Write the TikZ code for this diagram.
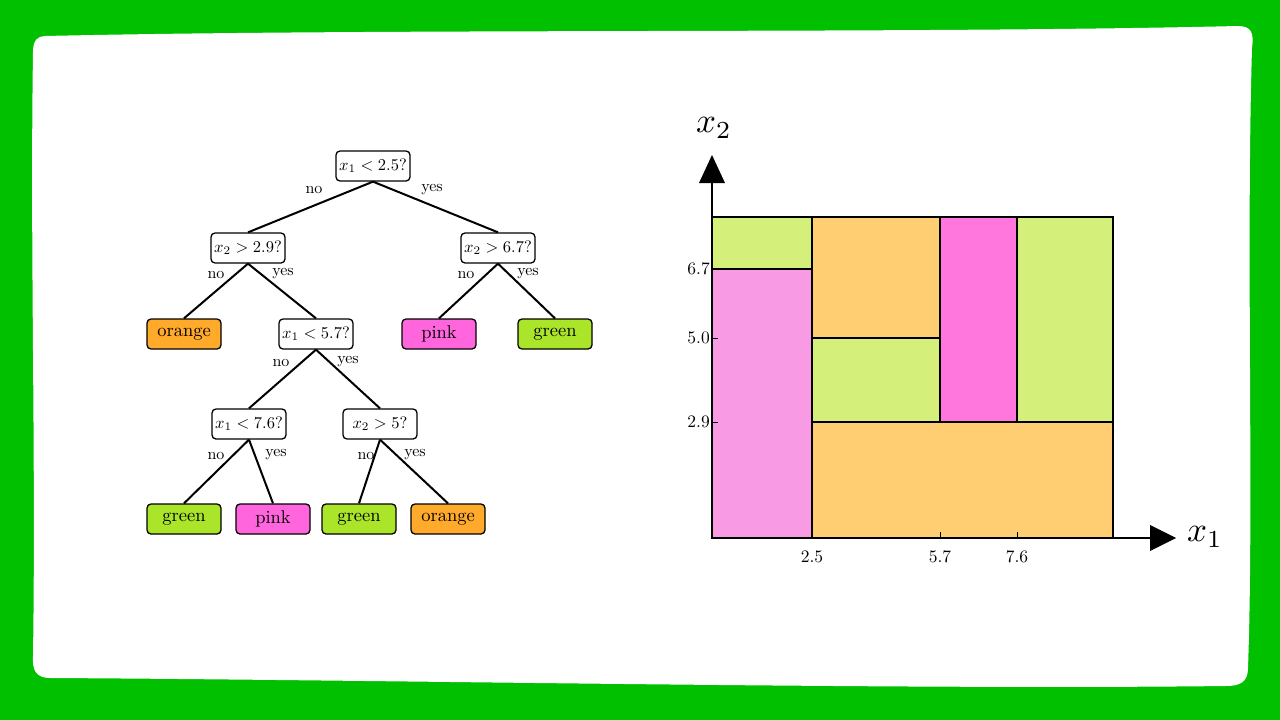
\documentclass[tikz,border=0pt]{standalone}
\usepackage{graphicx}
\newcommand\myS[2]{\scalebox{#1}{#2}}
\begin{document}
\begin{tikzpicture}[x=1pt,y=-1pt,
  q/.style={draw,line width=1.3pt,rounded corners=4pt,fill=white,minimum width=74pt,minimum height=30pt,inner sep=1pt},
  leaf/.style={q},
  e/.style={line width=2pt},
  reg/.style={draw=black,line width=2pt}]
\definecolor{bg}{HTML}{00C000}
\definecolor{lor}{HTML}{FFAA2A}
\definecolor{lpk}{HTML}{FF66DD}
\definecolor{lgr}{HTML}{AAE52A}
\definecolor{rgr}{HTML}{D4F07A}
\definecolor{ror}{HTML}{FFCE73}
\definecolor{rpl}{HTML}{F99AE4}
\definecolor{rpk}{HTML}{FF77DD}
\useasboundingbox (0,0) rectangle (1280,720);
\fill[bg] (0,0) rectangle (1280,720);
\fill[white] (45,36) .. controls (400,28) and (900,34) .. (1238,26)
  .. controls (1252,26) and (1254,34) .. (1252,48)
  .. controls (1246,250) and (1254,500) .. (1248,668)
  .. controls (1248,682) and (1240,686) .. (1226,686)
  .. controls (900,690) and (400,680) .. (50,678)
  .. controls (36,678) and (32,670) .. (33,656)
  .. controls (36,450) and (30,250) .. (33,52)
  .. controls (33,40) and (38,36) .. (45,36) -- cycle;
% tree
\node[q] (r) at (373,166) {\myS{1.65}{$x_1<2.5?$}};
\node[q] (a) at (248,248) {\myS{1.65}{$x_2>2.9?$}};
\node[q] (b) at (498,248) {\myS{1.65}{$x_2>6.7?$}};
\node[leaf,fill=lor] (l1) at (184,334) {\myS{1.85}{orange}};
\node[q] (c) at (316,334) {\myS{1.65}{$x_1<5.7?$}};
\node[leaf,fill=lpk] (l2) at (439,334) {\myS{1.85}{pink}};
\node[leaf,fill=lgr] (l3) at (555,334) {\myS{1.85}{green}};
\node[q] (d) at (249,424) {\myS{1.65}{$x_1<7.6?$}};
\node[q] (f) at (380,424) {\myS{1.65}{$x_2>5?$}};
\node[leaf,fill=lgr] (l4) at (184,519) {\myS{1.85}{green}};
\node[leaf,fill=lpk] (l5) at (273,519) {\myS{1.85}{pink}};
\node[leaf,fill=lgr] (l6) at (359,519) {\myS{1.85}{green}};
\node[leaf,fill=lor] (l7) at (448,519) {\myS{1.85}{orange}};
\draw[e] (r.south) -- (a.north); \draw[e] (r.south) -- (b.north);
\draw[e] (a.south) -- (l1.north); \draw[e] (a.south) -- (c.north);
\draw[e] (b.south) -- (l2.north); \draw[e] (b.south) -- (l3.north);
\draw[e] (c.south) -- (d.north); \draw[e] (c.south) -- (f.north);
\draw[e] (d.south) -- (l4.north); \draw[e] (d.south) -- (l5.north);
\draw[e] (f.south) -- (l6.north); \draw[e] (f.south) -- (l7.north);
\node (t1) at (314,190) {\myS{1.6}{no}}; \node (t2) at (432,190) {\myS{1.6}{yes}};
\node (t3) at (216,275) {\myS{1.6}{no}}; \node (t4) at (283,274) {\myS{1.6}{yes}};
\node (t5) at (466,275) {\myS{1.6}{no}}; \node (t6) at (528,274) {\myS{1.6}{yes}};
\node (t7) at (281,363) {\myS{1.6}{no}}; \node (t8) at (348,362) {\myS{1.6}{yes}};
\node (t9) at (216,456) {\myS{1.6}{no}}; \node (t10) at (276,455) {\myS{1.6}{yes}};
\node (t11) at (366,456) {\myS{1.6}{no}}; \node (t12) at (415,455) {\myS{1.6}{yes}};
% chart
\fill[rgr] (712,217) rectangle (812,269);
\fill[rpl] (712,269) rectangle (812,538);
\fill[ror] (812,217) rectangle (940,338);
\fill[rgr] (812,338) rectangle (940,422);
\fill[rpk] (940,217) rectangle (1017,422);
\fill[rgr] (1017,217) rectangle (1113,422);
\fill[ror] (812,422) rectangle (1113,538);
\draw[reg] (712,217) rectangle (1113,538);
\draw[reg] (712,269) -- (812,269);
\draw[reg] (812,217) -- (812,538);
\draw[reg] (812,338) -- (940,338);
\draw[reg] (812,422) -- (1113,422);
\draw[reg] (940,217) -- (940,422);
\draw[reg] (1017,217) -- (1017,422);
\draw[line width=2.5pt] (712,538) -- (1150,538);
\draw[line width=2.5pt] (712,538) -- (712,183);
\fill (1150,525) -- (1176,538) -- (1150,551) -- cycle;
\fill (699,183) -- (712,155) -- (725,183) -- cycle;
\node (X2) at (714,128) {\myS{3.5}{$x_2$}};
\node (X1) at (1205,537) {\myS{3.5}{$x_1$}};
\foreach \y/\t in {269/6.7,338/5.0,422/2.9} {
  \draw[thick] (712,\y) -- (718,\y);
  \node[anchor=east,inner sep=1pt] at (711,\y) {\myS{1.75}{$\t$}};
}
\foreach \x/\t in {812/2.5,940/5.7,1017/7.6} {
  \draw[thick] (\x,538) -- (\x,532);
  \node at (\x,557) {\myS{1.75}{$\t$}};
}
\end{tikzpicture}
\end{document}
